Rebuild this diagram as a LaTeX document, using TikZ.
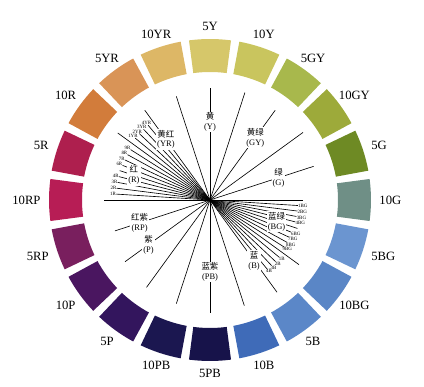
\documentclass[tikz,border=0pt]{standalone}
\usepackage{fontspec}
\setmainfont{Liberation Serif}
\newfontfamily\cjk{Noto Sans CJK SC}
\definecolor{c5Y}{HTML}{D6C76A}
\definecolor{c10Y}{HTML}{C9C55E}
\definecolor{c5GY}{HTML}{A8B84C}
\definecolor{c10GY}{HTML}{9DAA3A}
\definecolor{c5G}{HTML}{6E8A24}
\definecolor{c10G}{HTML}{6F8F86}
\definecolor{c5BG}{HTML}{6B95D0}
\definecolor{c10BG}{HTML}{5A86C6}
\definecolor{c5B}{HTML}{5B87C8}
\definecolor{c10B}{HTML}{3F6BB8}
\definecolor{c5PB}{HTML}{17134A}
\definecolor{c10PB}{HTML}{1B1750}
\definecolor{c5P}{HTML}{33155D}
\definecolor{c10P}{HTML}{4A1660}
\definecolor{c5RP}{HTML}{791F5E}
\definecolor{c10RP}{HTML}{B71D55}
\definecolor{c5R}{HTML}{AE1F4E}
\definecolor{c10R}{HTML}{D27C3B}
\definecolor{c5YR}{HTML}{D99457}
\definecolor{c10YR}{HTML}{DDB766}
\begin{document}
\begin{tikzpicture}[x=0.05cm,y=0.05cm,
    hue/.style={font=\fontsize{18}{20}\selectfont},
    tick/.style={font=\fontsize{7}{8}\selectfont,inner sep=0.3pt},
    fam/.style={font=\fontsize{12}{14}\selectfont,fill=white,inner sep=1.5pt,align=center},
    spoke/.style={line width=0.9pt}]
    \useasboundingbox (-210,-187) rectangle (214,200);
    \coordinate (o) at (0,0);
    % colour ring
    \foreach \a/\n [evaluate=\a as \b using \a+180] in {90/5Y,72/10Y,54/5GY,36/10GY,18/5G,0/10G,-18/5BG,-36/10BG,-54/5B,-72/10B,-90/5PB,-108/10PB,-126/5P,-144/10P,-162/5RP,180/10RP,162/5R,144/10R,126/5YR,108/10YR}{
        \fill[c\n] ({\a-7.5}:128) arc[start angle=\a-7.5,end angle=\a+7.5,radius=128] -- ({\a+7.5}:161) arc[start angle=\a+7.5,end angle=\a-7.5,radius=161] -- cycle;
        \node[hue,anchor=\b] (h\n) at (\a:167) {\n};
    }
    % hue steps
    \foreach \a/\r/\n [evaluate=\a as \b using \a+180] in {176.4/94/1R,172.8/94/2R,169.2/94/3R,165.6/94/4R,158.4/94/6R,154.8/94/7R,151.2/94/8R,147.6/94/9R,140.4/97/1YR,136.8/97/2YR,133.2/97/3YR,129.6/97/4YR,-3.6/88/1BG,-7.2/88/2BG,-10.8/88/3BG,-14.4/88/4BG,-21.6/87/6BG,-25.2/87/7BG,-28.8/88/8BG,-32.4/88/9BG,-39.6/90/1B,-43.2/90/2B,-46.8/90/3B,-50.4/90/4B}{
        \coordinate (t\n) at (\a:\r);
        \draw[spoke] (o) -- (t\n);
        \node[tick,anchor=\b] (l\n) at (t\n) {\n};
    }
    \foreach \a/\r/\n in {144/114/10R,108/109/10YR,72/113/10Y,36/115/10GY,0/93/10G,-36/110/10BG,-72/111/10B,-108/109/10PB,234/108/5P,180/106/10RP}{
        \coordinate (e\n) at (\a:\r);
        \draw[spoke] (o) -- (e\n);
    }
    % hue families
    \foreach \a/\r/\e in {90/112/Y,54/111/GY,18/109/G,-18/92/BG,-54/114/B,-90/113/PB,216/105/P,198/100/RP,162/95/R,126/111/YR}{
        \coordinate (s\e) at (\a:\r);
        \draw[spoke] (o) -- (s\e);
    }
    \foreach \a/\p/\e/\z in {90/78/Y/黄,54/77/GY/黄绿,18/72/G/绿,-18/70/BG/蓝绿,-54/75/B/蓝,-90/72/PB/蓝紫,216/76/P/紫,198/74/RP/红紫,162/80/R/红,126/75/YR/黄红}{
        \node[fam] (f\e) at (\a:\p) {{\cjk \z}\\(\e)};
    }
\end{tikzpicture}
\end{document}
